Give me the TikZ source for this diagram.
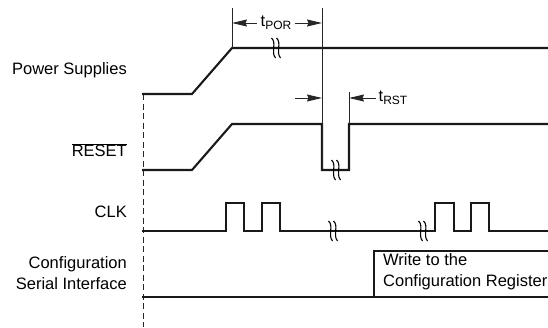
\documentclass[tikz,border=0pt]{standalone}
\usepackage{fontspec}
\setmainfont{Liberation Sans}
\usetikzlibrary{arrows.meta}

\newcommand{\tsub}[1]{t\raisebox{-0.35ex}{\fontsize{12}{12}\selectfont #1}}

\tikzset{
sig/.style={line width=2.1pt, color=black!90},
guide/.style={line width=1pt, color=black!85},
dim/.style={line width=1pt, color=black!85, -{Stealth[length=15pt,width=7pt,inset=1.5pt]}},
lbl/.style={anchor=east, align=right, inner sep=0pt, font=\fontsize{16.5}{21}\selectfont},
brk/.pic={
\draw[line width=1.1pt] (-4.5,-10) .. controls (1,-5) and (-5.5,4) .. (-0.5,10);
\draw[line width=1.1pt] (0.5,-10) .. controls (6,-5) and (-0.5,4) .. (4.5,10);
}
}

\begin{document}
\begin{tikzpicture}[x=1pt,y=-1pt]
\useasboundingbox (0,0) rectangle (548,327);

\node[lbl] (power) at (127,70) {Power Supplies};
\node[lbl] (reset) at (127,150) {$\overline{\mbox{RESET}}$};
\node[lbl] (clk) at (127,212) {CLK};
\node[lbl] (csi) at (127,273) {Configuration\\Serial Interface};

\coordinate (por) at (232,48);
\coordinate (rstdn) at (322,170);
\coordinate (rstup) at (349,124);

\draw[guide, dash pattern=on 6pt off 3.5pt] (143,94) -- (143,327);

\draw[sig] (142,94) -- (192,94) -- (por) -- (548,48);
\draw[sig] (142,170) -- (192,170) -- (232,124) -- (322,124) -- (rstdn) -- (349,170) -- (rstup) -- (548,124);
\draw[sig] (142,231) -- (226,231) -- (226,203) -- (244,203) -- (244,231) -- (262,231) -- (262,203) -- (280,203) -- (280,231)
  -- (435,231) -- (435,203) -- (454,203) -- (454,231) -- (471,231) -- (471,203) -- (489,203) -- (489,231) -- (548,231);
\draw[sig] (142,297) -- (548,297);
\draw[sig] (374,297) -- (374,251) -- (548,251);

\pic at (276,48) {brk};
\pic at (336,170) {brk};
\pic at (333,231) {brk};
\pic at (423,231) {brk};

\draw[guide] (232,8) -- (por);
\draw[guide] (322,8) -- (rstdn);
\draw[guide] (349,92) -- (rstup);

\node[inner sep=4pt] (tpor) at (276,23) {\fontsize{16.5}{20}\selectfont\tsub{POR}};
\draw[dim] (tpor.west) -- (232,23);
\draw[dim] (tpor.east) -- (322,23);

\node[anchor=west, inner sep=2.5pt] (trst) at (376,98) {\fontsize{16.5}{20}\selectfont\tsub{RST}};
\draw[dim] (295,98) -- (322,98);
\draw[dim] (trst.west) -- (349,98);

\node[anchor=north west, align=left, inner sep=0pt, font=\fontsize{16.5}{21}\selectfont] (write) at (383,253) {Write to the\\Configuration Register};
\end{tikzpicture}
\end{document}
